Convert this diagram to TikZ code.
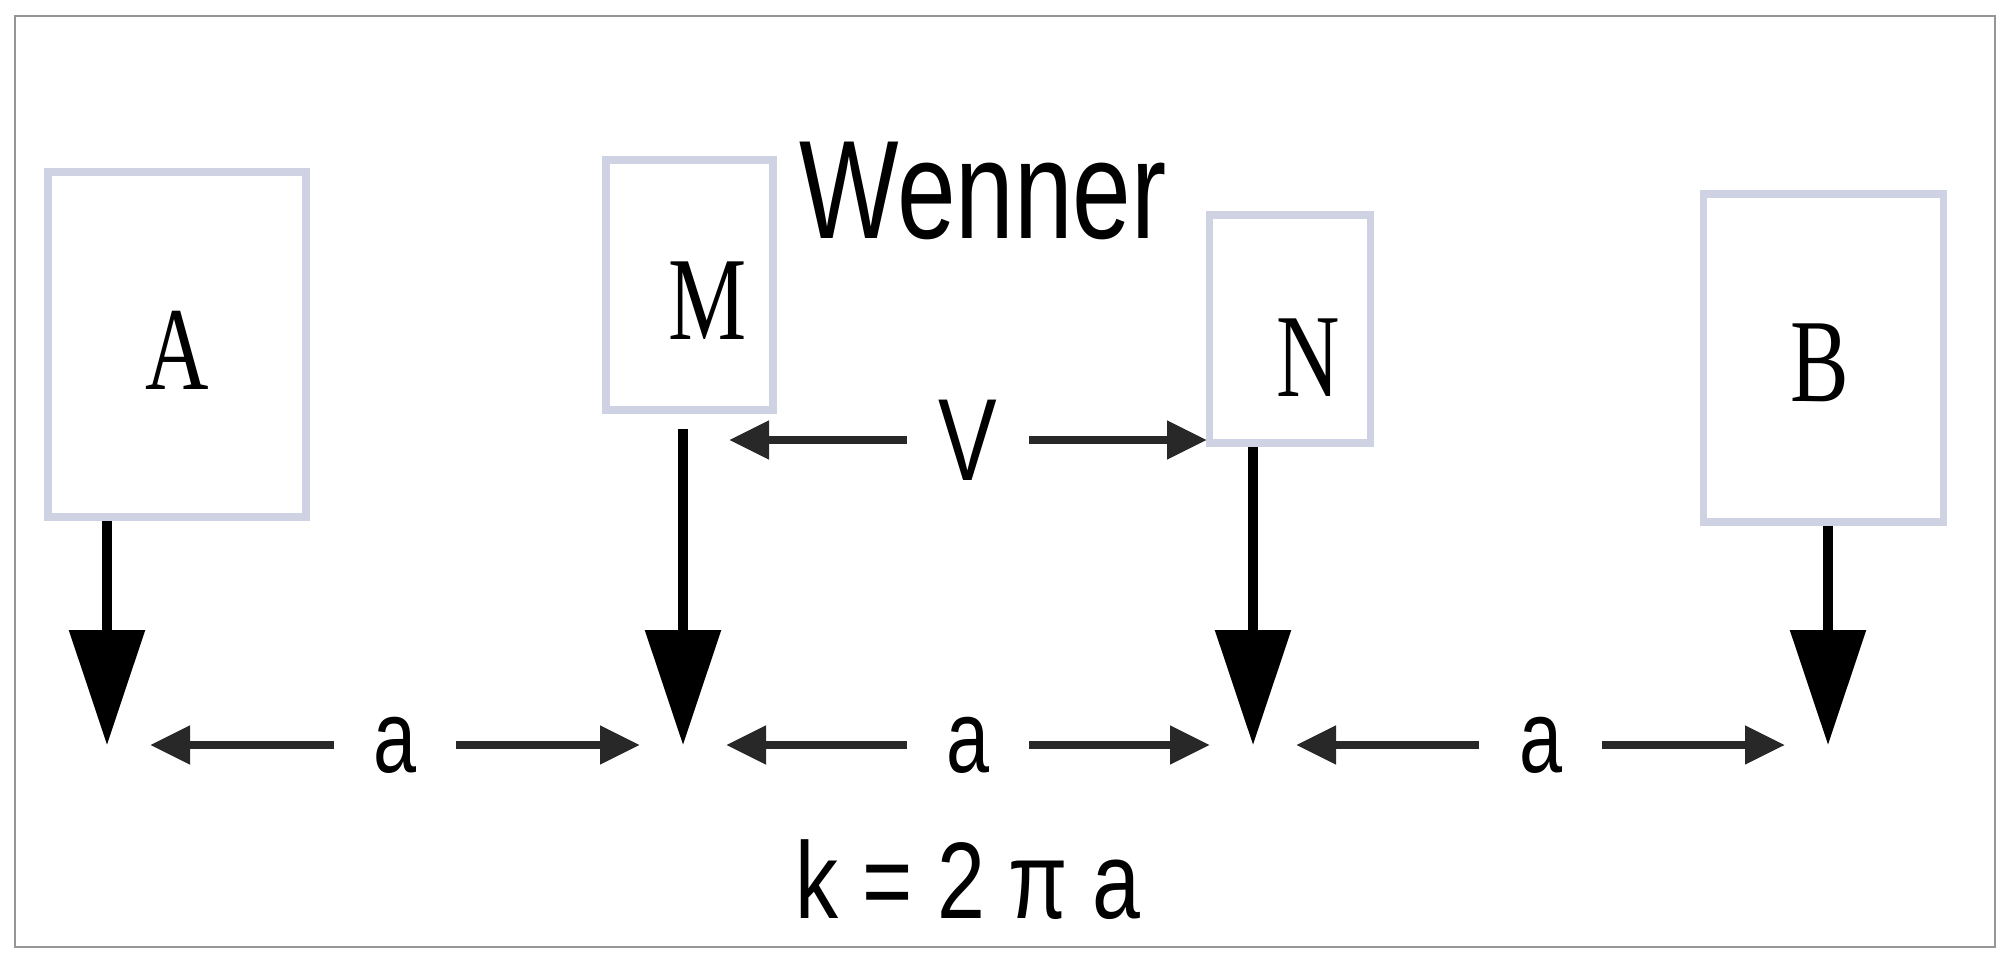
\documentclass[tikz,border=0pt]{standalone}
\usepackage{fontspec}
\setmainfont{Liberation Serif}
\newfontfamily\labelfont{Liberation Sans}
\usetikzlibrary{arrows.meta, calc}
\definecolor{boxedge}{RGB}{206,210,226}
\definecolor{framegray}{RGB}{150,150,150}
\definecolor{arrowgray}{RGB}{40,40,40}
\tikzset{
  electrode/.style={draw=boxedge, line width=2pt, fill=white, inner sep=0pt},
  tag/.style={font=\fontsize{25}{25}\selectfont, yscale=1.35, inner sep=0pt, anchor=base},
  spacing/.style={font=\labelfont\fontsize{22}{22}\selectfont, yscale=1.33, inner sep=0pt, minimum width=1.2cm},
  title/.style={font=\labelfont\fontsize{30}{30}\selectfont, yscale=1.33, inner sep=0pt, anchor=base},
  probe/.style={line width=2.6pt, -{Triangle[length=1.15cm, width=0.74cm]}},
  gap/.style={line width=2.2pt, draw=arrowgray, -{Triangle[length=0.4cm, width=0.37cm]}, shorten >=0.43cm}
}
\begin{document}
\begin{tikzpicture}[thick]
  \useasboundingbox (0,0) rectangle (20.09,9.63);
  % Outer frame
  \draw[framegray, line width=0.6pt] (0.15,0.16) rectangle (19.95,9.47);

  % Electrode boxes
  \node[electrode, minimum width=2.58cm, minimum height=3.45cm] (A) at (1.77,6.185) {};
  \node[electrode, minimum width=1.67cm, minimum height=2.50cm] (M) at (6.895,6.78) {};
  \node[electrode, minimum width=1.61cm, minimum height=2.28cm] (N) at (12.895,6.34) {};
  \node[electrode, minimum width=2.40cm, minimum height=3.28cm] (B) at (18.23,6.05) {};

  % Electrode letters
  \node[tag] (tA) at (1.77,5.74) {A};
  \node[tag] (tM) at (7.075,6.24) {M};
  \node[tag] (tN) at (13.08,5.67) {N};
  \node[tag] (tB) at (18.20,5.62) {B};

  % Ground contact points
  \coordinate (pA) at (1.07,2.18);
  \coordinate (pM) at (6.83,2.18);
  \coordinate (pN) at (12.53,2.18);
  \coordinate (pB) at (18.28,2.18);

  % Electrodes driven into the ground
  \draw[probe] (A.south -| pA) -- (pA);
  \draw[probe, shorten <=0.15cm] (M.south -| pM) -- (pM);
  \draw[probe] (N.south -| pN) -- (pN);
  \draw[probe] (B.south -| pB) -- (pB);

  % Electrode spacing
  \node[spacing] (a1) at ($(pA)!0.5!(pM)$) {a};
  \node[spacing] (a2) at ($(pM)!0.5!(pN)$) {a};
  \node[spacing] (a3) at ($(pN)!0.5!(pB)$) {a};
  \draw[gap] (a1.west) -- (pA);
  \draw[gap] (a1.east) -- (pM);
  \draw[gap] (a2.west) -- (pM);
  \draw[gap] (a2.east) -- (pN);
  \draw[gap] (a3.west) -- (pN);
  \draw[gap] (a3.east) -- (pB);

  % Potential difference between M and N
  \node[spacing, font=\labelfont\fontsize{25}{25}\selectfont] (V) at (9.68,5.23) {V};
  \draw[gap, shorten >=0.46cm] (V.west) -- (V.west -| pM);
  \draw[gap, shorten >=0.46cm] (V.east) -- (V.east -| pN);

  % Title and geometric factor
  \node[title] (wenner) at (9.83,7.25) {Wenner};
  \node[title, font=\labelfont\fontsize{24.5}{24.5}\selectfont, yscale=0.95] (kfac) at (9.68,0.45) {k = 2 π a};
\end{tikzpicture}
\end{document}
